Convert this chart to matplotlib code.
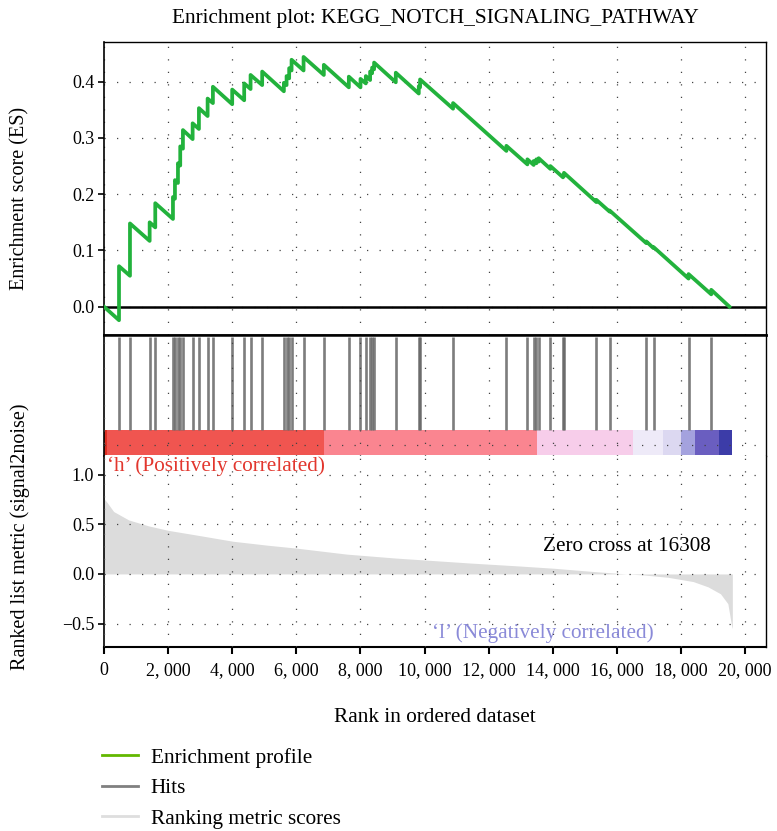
import numpy as np
import matplotlib
matplotlib.use("Agg")
import matplotlib.pyplot as plt
from matplotlib.lines import Line2D
from matplotlib.ticker import FuncFormatter

plt.rcParams['font.family'] = ['Liberation Serif', 'DejaVu Serif']

# ---------------- data ----------------
title = "Enrichment plot: KEGG_NOTCH_SIGNALING_PATHWAY"

hit_ranks = [468, 810, 1424, 1599, 2151, 2213, 2307, 2378, 2462, 2765, 2961, 3232,
             3397, 3999, 4373, 4572, 4934, 5611, 5695, 5776, 5851, 6225, 6857, 7637,
             8001, 8167, 8301, 8363, 8425, 9102, 9819, 9859, 10888, 12552, 13207,
             13403, 13487, 13559, 13924, 14317, 14348, 15357, 15772, 16916, 17143,
             18234, 18942]

# running enrichment score, vertices (value just before / just after each hit)
es_ranks = [0,
            468, 468, 810, 810, 1424, 1424, 1599, 1599, 2151, 2151, 2213, 2213,
            2307, 2307, 2378, 2378, 2462, 2462, 2765, 2765, 2961, 2961, 3232, 3232,
            3397, 3397, 3999, 3999, 4373, 4373, 4572, 4572, 4934, 4934, 5611, 5611,
            5695, 5695, 5776, 5776, 5851, 5851, 6225, 6225, 6857, 6857, 7637, 7637,
            8001, 8001, 8167, 8167, 8301, 8301, 8363, 8363, 8425, 8425, 9102, 9102,
            9819, 9819, 9859, 9859, 10888, 10888, 12552, 12552, 13207, 13207,
            13403, 13403, 13487, 13487, 13559, 13559, 13924, 13924, 14317, 14317,
            14348, 14348, 15357, 15357, 15772, 15772, 16916, 16916, 17143, 17143,
            18234, 18234, 18942, 18942,
            19510]
es_values = [0.000,
             -0.024, 0.072, 0.055, 0.148, 0.117, 0.150, 0.141, 0.184, 0.156, 0.195,
             0.192, 0.225, 0.220, 0.255, 0.251, 0.285, 0.281, 0.314, 0.298, 0.326,
             0.316, 0.353, 0.339, 0.370, 0.362, 0.391, 0.360, 0.386, 0.367, 0.397,
             0.387, 0.412, 0.394, 0.418, 0.383, 0.398, 0.394, 0.410, 0.406, 0.424,
             0.420, 0.439, 0.420, 0.444, 0.412, 0.430, 0.390, 0.409, 0.390, 0.405,
             0.397, 0.410, 0.403, 0.418, 0.415, 0.425, 0.422, 0.434, 0.399, 0.416,
             0.379, 0.392, 0.390, 0.404, 0.352, 0.362, 0.277, 0.286, 0.253, 0.262,
             0.252, 0.259, 0.255, 0.262, 0.258, 0.264, 0.245, 0.250, 0.230, 0.234,
             0.232, 0.238, 0.186, 0.190, 0.169, 0.171, 0.113, 0.116, 0.104, 0.106,
             0.050, 0.058, 0.022, 0.030,
             0.000]

# ranked list metric (signal2noise) sampled along the ranking
metric_ranks = [0, 100, 300, 770, 1390, 2000, 2930, 4020, 5100, 6020, 7570, 9110,
                10040, 11430, 12970, 14050, 15290, 16308, 16830, 17600, 18380,
                18840, 19230, 19460, 19580, 19600]
metric_values = [0.76, 0.72, 0.63, 0.545, 0.485, 0.44, 0.39, 0.33, 0.29, 0.26, 0.20,
                 0.16, 0.14, 0.11, 0.08, 0.057, 0.024, 0.0, -0.01, -0.034, -0.077,
                 -0.13, -0.2, -0.3, -0.53, -0.55]

# heat bar segments along the ranking
band_edges = [0, 94, 6857, 13497, 16489, 17424, 17985, 18421, 19169, 19574]
band_colors = ['#dc2f22', '#f05550', '#fa8590', '#f7cdea', '#eeeaf8', '#dcd8f1',
               '#a4a2de', '#6a5ec0', '#3c3ca8']

zero_cross = 16308
x_ticks = [0, 2000, 4000, 6000, 8000, 10000, 12000, 14000, 16000, 18000, 20000]
es_ticks = [0.0, 0.1, 0.2, 0.3, 0.4]
metric_ticks = [-0.5, 0.0, 0.5, 1.0]

# ---------------- figure ----------------
W, H = 777, 831
fig = plt.figure(figsize=(W / 100, H / 100), dpi=100)

def box(l, t, r, b):
    return [l / W, 1 - b / H, (r - l) / W, (b - t) / H]

ax1 = fig.add_axes(box(104, 42, 766, 335))
ax2 = fig.add_axes(box(104, 335, 766, 456), sharex=ax1)
ax3 = fig.add_axes(box(104, 456, 766, 647), sharex=ax1)

grid_kw = dict(color='#444444', linestyle=(0, (1.0, 9)), linewidth=0.9)
xmax = 20650
TICK_FS = 13
TXT_FS = 15.3

# --- ES panel
ax1.plot(es_ranks, es_values, color='#22b23c', lw=2.7, solid_joinstyle='round', zorder=4)
ax1.axhline(0, color='black', lw=1.8, zorder=3)
ax1.set_xlim(0, xmax)
ax1.set_ylim(-0.0503, 0.4706)
ax1.set_yticks(es_ticks)
ax1.set_yticklabels([f"{v:.1f}" for v in es_ticks])
ax1.set_xticks(x_ticks)
ax1.grid(True, **grid_kw)
ax1.tick_params(axis='x', bottom=False, labelbottom=False)
ax1.tick_params(axis='y', direction='out', length=4, width=1.2, labelsize=TICK_FS, pad=3)
ax1.spines['bottom'].set_linewidth(1.8)
ax1.spines['top'].set_linewidth(1.0)
ax1.spines['left'].set_linewidth(1.2)
ax1.spines['right'].set_linewidth(1.0)
fig.text(435 / W, 1 - 18 / H, title, ha='center', va='center', fontsize=15.3)

# --- hits + heat bar panel
ax2.set_ylim(0, 1)
ax2.vlines(hit_ranks, 0.215, 0.985, color='#666666', lw=1.9, alpha=0.85, zorder=2)
ax2.bar(band_edges[:-1], 0.205, width=np.diff(band_edges), bottom=0.01,
        color=band_colors, align='edge', linewidth=0, zorder=1)
ax2.set_yticks([0.09])
ax2.set_axisbelow(False)
ax2.grid(True, **grid_kw)
ax2.tick_params(axis='both', length=0, labelleft=False, labelbottom=False)
ax2.spines['bottom'].set_visible(False)
ax2.spines['top'].set_linewidth(1.8)
ax2.spines['left'].set_linewidth(1.2)
ax2.spines['right'].set_linewidth(1.0)

# --- ranked metric panel
ax3.fill_between(metric_ranks, metric_values, 0, color='#dcdcdc', lw=0, zorder=1)
ax3.set_ylim(-0.737, 1.19)
ax3.set_yticks(metric_ticks)
ax3.set_yticklabels(["\u22120.5", "0.0", "0.5", "1.0"])
ax3.set_xticks(x_ticks)
ax3.xaxis.set_major_formatter(FuncFormatter(lambda v, p: f"{int(v):,}".replace(",", ", ")))
ax3.set_axisbelow(False)
ax3.grid(True, **grid_kw)
ax3.tick_params(axis='x', direction='out', length=5, width=1.5, labelsize=TICK_FS, pad=6)
ax3.tick_params(axis='y', direction='out', length=4, width=1.2, labelsize=TICK_FS, pad=3)
ax3.spines['top'].set_visible(False)
ax3.spines['bottom'].set_linewidth(1.5)
ax3.spines['left'].set_linewidth(1.2)
ax3.spines['right'].set_linewidth(1.0)

ax3.text(94, 1.09, "\u2018h\u2019 (Positively correlated)", color='#e2372e',
         fontsize=TXT_FS, ha='left', va='center')
ax3.text(zero_cross, 0.28, f"Zero cross at {zero_cross}", color='black',
         fontsize=TXT_FS, ha='center', va='center')
ax3.text(10224, -0.60, "\u2018l\u2019 (Negatively correlated)", color='#8a8ad8',
         fontsize=TXT_FS, ha='left', va='center')

fig.text(20 / W, 1 - 198 / H, "Enrichment score (ES)", rotation=90,
         ha='center', va='center', fontsize=14.5)
fig.text(20 / W, 1 - 537 / H, "Ranked list metric (signal2noise)", rotation=90,
         ha='center', va='center', fontsize=14.5)
fig.text(435 / W, 1 - 717 / H, "Rank in ordered dataset", ha='center', va='center',
         fontsize=15.3)

handles = [Line2D([], [], color='#62b800', lw=2.0),
           Line2D([], [], color='#808080', lw=2.0),
           Line2D([], [], color='#dedede', lw=2.0)]
fig.legend(handles, ["Enrichment profile", "Hits", "Ranking metric scores"],
           loc='upper left', bbox_to_anchor=(102 / W, 1 - 748 / H), frameon=False,
           fontsize=15.3, handlelength=1.7, handletextpad=0.6, labelspacing=0.5,
           borderpad=0, borderaxespad=0)

fig.savefig("out.png", dpi=100)
